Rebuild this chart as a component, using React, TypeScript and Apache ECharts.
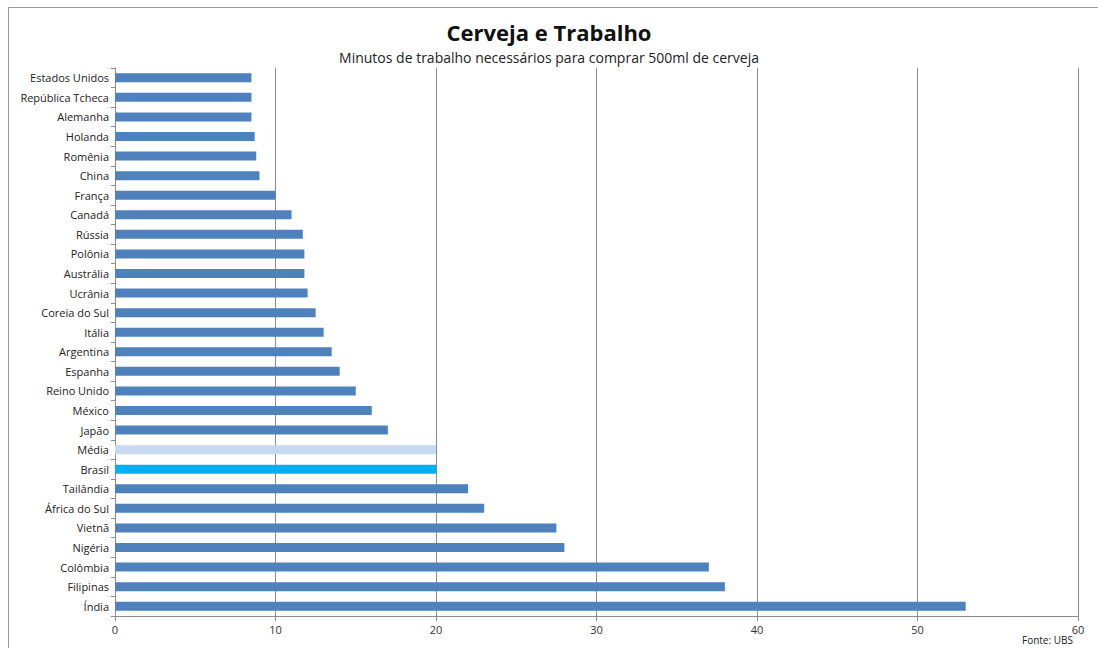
import React, { useEffect, useRef } from "react";
import * as echarts from "echarts";

// Minutes of work needed to buy 500ml of beer, by country
const countries = [
  "Estados Unidos", "República Tcheca", "Alemanha", "Holanda", "Romênia", "China",
  "França", "Canadá", "Rússia", "Polônia", "Austrália", "Ucrânia", "Coreia do Sul",
  "Itália", "Argentina", "Espanha", "Reino Unido", "México", "Japão", "Média",
  "Brasil", "Tailândia", "África do Sul", "Vietnã", "Nigéria", "Colômbia",
  "Filipinas", "Índia",
];
const minutes = [
  8.5, 8.5, 8.5, 8.7, 8.8, 9,
  10, 11, 11.7, 11.8, 11.8, 12, 12.5,
  13, 13.5, 14, 15, 16, 17, 20,
  20, 22, 23, 27.5, 28, 37,
  38, 53,
];
const xTicks = [0, 10, 20, 30, 40, 50, 60];

const BAR = "#4f81bd";
const HIGHLIGHT: Record<string, string> = { "Média": "#c6d9f0", Brasil: "#00b0f0" };
const FONT = "'Open Sans', Lato, sans-serif";

export default function App() {
  const ref = useRef<HTMLDivElement>(null);

  useEffect(() => {
    if (!ref.current) return;
    const chart = echarts.init(ref.current, undefined, { renderer: "svg" });
    chart.setOption({
      animation: false,
      backgroundColor: "#ffffff",
      textStyle: { fontFamily: FONT },
      title: [
        {
          text: "Cerveja e Trabalho",
          left: "center",
          top: 21,
          padding: 0,
          textStyle: { fontFamily: FONT, fontSize: 22, fontWeight: "bold", color: "#111" },
        },
        {
          text: "Minutos de trabalho necessários para comprar 500ml de cerveja",
          left: "center",
          top: 50,
          padding: 0,
          textStyle: { fontFamily: FONT, fontSize: 14, fontWeight: "normal", color: "#222" },
        },
      ],
      grid: { left: 115, right: 20, top: 68, bottom: 32 },
      xAxis: {
        type: "value",
        min: xTicks[0],
        max: xTicks[xTicks.length - 1],
        interval: 10,
        axisLine: { show: true, lineStyle: { color: "#8c8c8c", width: 1 } },
        axisTick: { show: true, length: 5, lineStyle: { color: "#8c8c8c" } },
        axisLabel: { fontFamily: FONT, fontSize: 11, color: "#333", margin: 8 },
        splitLine: { show: true, lineStyle: { color: "#8c8c8c", width: 1 } },
      },
      yAxis: {
        type: "category",
        inverse: true,
        data: countries,
        axisLine: { show: true, lineStyle: { color: "#8c8c8c", width: 1 } },
        axisTick: { show: true, length: 4, lineStyle: { color: "#8c8c8c" } },
        axisLabel: { fontFamily: FONT, fontSize: 11, color: "#222", margin: 6, interval: 0 },
      },
      series: [
        {
          type: "bar",
          barWidth: 9,
          data: countries.map((c, i) => ({
            value: minutes[i],
            itemStyle: { color: HIGHLIGHT[c] || BAR },
          })),
        },
      ],
      graphic: [
        {
          type: "rect",
          silent: true,
          shape: { x: 8.5, y: 7.5, width: 1120, height: 700 },
          style: { fill: "none", stroke: "#9a9a9a", lineWidth: 1 },
        },
        {
          type: "text",
          x: 1022,
          y: 635,
          style: { text: "Fonte: UBS", font: `10px ${FONT}`, fill: "#222" },
        },
      ],
    });
    return () => chart.dispose();
  }, []);

  return (
    <div
      ref={ref}
      style={{ position: "absolute", left: 0, top: 0, width: 1098, height: 648 }}
    />
  );
}
